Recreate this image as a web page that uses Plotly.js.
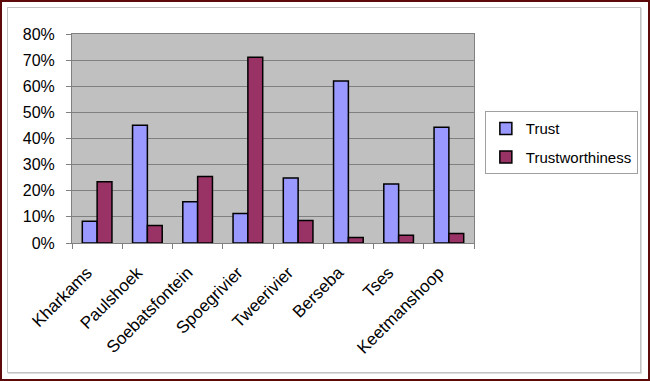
<!DOCTYPE html>
<html>
<head>
<meta charset="utf-8">
<script src="https://cdn.plot.ly/plotly-3.0.1.min.js"></script>
<style>
html,body{margin:0;padding:0;background:#fff;}
#wrap{position:relative;width:650px;height:381px;overflow:hidden;}
#chart{position:absolute;left:0;top:0;width:650px;height:381px;}
#outer{position:absolute;left:0;top:0;width:650px;height:381px;box-sizing:border-box;border:2px solid #5e0a0a;pointer-events:none;}
#inner{position:absolute;left:7px;top:7px;width:634px;height:366px;box-sizing:border-box;border:1px solid #c4c4c4;box-shadow:1px 1px 0 #dcdcdc;pointer-events:none;}
</style>
</head>
<body>
<div id="wrap">
<div id="chart"></div>
<div id="inner"></div>
<div id="outer"></div>
</div>
<script>
const categories = ["Kharkams","Paulshoek","Soebatsfontein","Spoegrivier","Tweerivier","Berseba","Tses","Keetmanshoop"];
const trust = [8.3, 45.1, 15.8, 11.3, 24.9, 62.0, 22.6, 44.3];
const trustworthiness = [23.4, 6.7, 25.5, 71.1, 8.6, 2.1, 3.0, 3.6];
const yTickVals = [0,10,20,30,40,50,60,70,80];
const yTickText = ["0%","10%","20%","30%","40%","50%","60%","70%","80%"];

const fam = "Liberation Sans, Arial, sans-serif";
const font = {family: fam, size: 16, color: "#000"};

const traces = [
  {type:"bar", name:"Trust", x:categories, y:trust, legendgroup:"a",
   marker:{color:"#9999ff", line:{color:"#000000", width:1.5}}},
  {type:"bar", name:"Trustworthiness", x:categories, y:trustworthiness, legendgroup:"b",
   marker:{color:"#993366", line:{color:"#000000", width:1.5}}}
];

const layout = {
  width:650, height:381,
  margin:{l:72, r:174, t:34, b:138, pad:0},
  paper_bgcolor:"#ffffff",
  plot_bgcolor:"#c0c0c0",
  font:font,
  barmode:"group",
  bargap:0.41,
  bargroupgap:0,
  showlegend:true,
  legend:{
    x:1.027, y:0.63, xanchor:"left", yanchor:"top",
    bgcolor:"#ffffff", bordercolor:"#a0a0a0", borderwidth:1,
    font:{family:fam, size:15, color:"#000"},
    traceorder:"grouped", tracegroupgap:6
  },
  xaxis:{
    type:"category",
    tickangle:-45,
    ticks:"outside", ticklen:5, tickcolor:"#808080",
    tickson:"boundaries",
    ticklabelshift:-10,
    ticklabelstandoff:12,
    showline:true, linecolor:"#808080", linewidth:1, mirror:true,
    showgrid:false,
    tickfont:{family:fam, size:17, color:"#000"},
    automargin:false
  },
  yaxis:{
    range:[0,80],
    tickmode:"array",
    tickvals:yTickVals,
    ticktext:yTickText,
    ticks:"outside", ticklen:5, tickcolor:"#808080",
    ticklabelstandoff:8,
    showline:true, linecolor:"#808080", linewidth:1, mirror:true,
    showgrid:true, gridcolor:"#808080", gridwidth:1,
    zeroline:false,
    tickfont:font,
    automargin:false
  }
};

Plotly.newPlot("chart", traces, layout, {displayModeBar:false, staticPlot:true});
</script>
</body>
</html>
